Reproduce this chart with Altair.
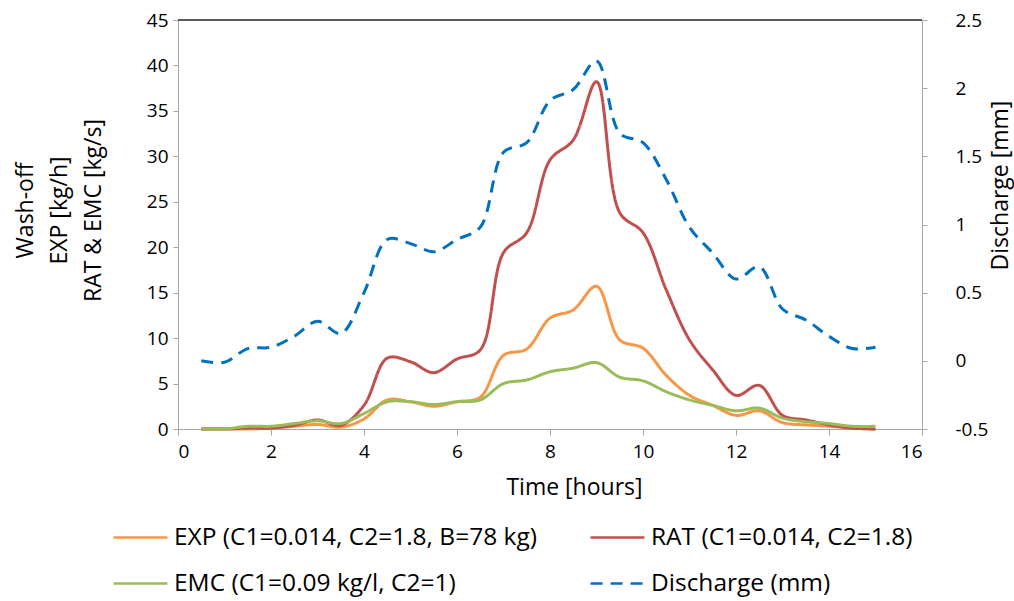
import altair as alt
import pandas as pd

# Time (hours)
time = [0.5, 1, 1.5, 2, 2.5, 3, 3.5, 4, 4.5, 5, 5.5, 6, 6.5, 7, 7.5, 8, 8.5, 9,
        9.5, 10, 10.5, 11, 11.5, 12, 12.5, 13, 13.5, 14, 14.5, 15]

exp_vals = [0, 0, 0, 0.1, 0.3, 0.5, 0.2, 1.1, 3.2, 3.0, 2.5, 3.0, 3.5, 8.1, 8.8, 12.2, 13.1, 15.7,
            9.8, 8.9, 5.9, 3.7, 2.6, 1.5, 2.0, 0.7, 0.45, 0.3, 0.1, 0]
rat_vals = [0, 0, 0.1, 0.1, 0.4, 1.0, 0.4, 2.6, 7.8, 7.4, 6.2, 7.7, 8.7, 19.4, 21.6, 29.6, 31.8, 38.2,
            23.8, 21.6, 15.3, 9.8, 6.5, 3.7, 4.8, 1.5, 1.0, 0.45, 0.1, 0]
emc_vals = [0, 0, 0.3, 0.3, 0.6, 0.9, 0.6, 1.7, 3.0, 3.0, 2.7, 3.0, 3.2, 5.0, 5.4, 6.3, 6.7, 7.3,
            5.7, 5.3, 4.1, 3.2, 2.6, 2.0, 2.3, 1.2, 0.8, 0.6, 0.3, 0.3]
discharge_vals = [0, -0.01, 0.09, 0.1, 0.18, 0.29, 0.2, 0.5, 0.89, 0.86, 0.8, 0.89, 0.98, 1.53, 1.6, 1.91,
                  1.99, 2.2, 1.67, 1.6, 1.33, 0.98, 0.79, 0.6, 0.69, 0.38, 0.3, 0.18, 0.09, 0.1]

series_names = ["EXP (C1=0.014, C2=1.8, B=78 kg)", "RAT (C1=0.014, C2=1.8)",
                "EMC (C1=0.09 kg/l, C2=1)", "Discharge (mm)"]
series_colors = ["#F79646", "#C0504D", "#9BBB59", "#0070C0"]
series_dashes = [[1, 0], [1, 0], [1, 0], [12, 8]]

left_ticks = [0, 5, 10, 15, 20, 25, 30, 35, 40, 45]
right_ticks = [-0.5, 0, 0.5, 1, 1.5, 2, 2.5]
x_ticks = [0, 2, 4, 6, 8, 10, 12, 14, 16]

rows = []
for name, vals in zip(series_names, [exp_vals, rat_vals, emc_vals, discharge_vals]):
    for t, v in zip(time, vals):
        rows.append({"time": t, "value": v, "series": name})
df = pd.DataFrame(rows)

FONT = "Open Sans"
TXT = "#000000"
AX = "#A6A6A6"
LAB = 19
TIT = 23

color_enc = alt.Color(
    "series:N",
    scale=alt.Scale(domain=series_names, range=series_colors),
    legend=alt.Legend(
        title=None, orient="none", legendX=-66, legendY=489, columns=2, direction="horizontal",
        symbolType="stroke", symbolSize=2900, symbolStrokeWidth=2.5,
        labelFontSize=24.5, labelFont=FONT, labelColor=TXT, labelOffset=5,
        columnPadding=48, rowPadding=6, labelLimit=600,
    ),
)
dash_enc = alt.StrokeDash(
    "series:N",
    scale=alt.Scale(domain=series_names, range=series_dashes),
    legend=alt.Legend(title=None),
)

x_enc = alt.X(
    "time:Q",
    scale=alt.Scale(domain=[0, 16], nice=False),
    axis=alt.Axis(
        title="Time [hours]", values=x_ticks, grid=False, domainColor=AX, tickColor=AX,
        tickSize=6, labelPadding=7, labelFontSize=LAB, labelFont=FONT, labelColor=TXT,
        titleFontSize=TIT, titleFont=FONT, titleFontWeight="normal", titleColor=TXT,
        titleX=396, titleY=58, titleBaseline="middle", titleAlign="center",
    ),
)

base = alt.Chart(df)

left = base.transform_filter(
    alt.datum.series != "Discharge (mm)"
).mark_line(interpolate="catmull-rom", strokeWidth=3).encode(
    x=x_enc,
    y=alt.Y(
        "value:Q",
        scale=alt.Scale(domain=[0, 45], nice=False),
        axis=alt.Axis(
            orient="left", values=left_ticks, grid=False, domainColor=AX, tickColor=AX,
            tickSize=5, labelPadding=5, labelFontSize=LAB, labelFont=FONT, labelColor=TXT,
            title=["Wash-off", "EXP [kg/h]", "RAT & EMC [kg/s]"], titleLineHeight=34,
            titleFontSize=TIT, titleFont=FONT, titleFontWeight="normal", titleColor=TXT,
            titleAngle=270, titleX=-153, titleY=190, titleBaseline="middle", titleAlign="center",
        ),
    ),
    color=color_enc,
    strokeDash=dash_enc,
)

right = base.transform_filter(
    alt.datum.series == "Discharge (mm)"
).mark_line(interpolate="catmull-rom", strokeWidth=3).encode(
    x=x_enc,
    y=alt.Y(
        "value:Q",
        scale=alt.Scale(domain=[-0.5, 2.5], nice=False),
        axis=alt.Axis(
            orient="right", values=right_ticks, grid=False, domainColor=AX, tickColor=AX,
            tickSize=5, labelPadding=28, labelFontSize=LAB, labelFont=FONT, labelColor=TXT,
            labelAlign="left", labelExpr="datum.value + ''",
            title="Discharge [mm]", titleFontSize=TIT, titleFont=FONT, titleFontWeight="normal",
            titleColor=TXT, titleAngle=270, titleX=78, titleY=165, titleBaseline="middle",
            titleAlign="center",
        ),
    ),
    color=color_enc,
    strokeDash=dash_enc,
)

top_border = alt.Chart(df).mark_rule(color="#595959", strokeWidth=1).encode(
    x=alt.value(0), x2=alt.value(744), y=alt.value(0)
)

chart = alt.layer(left, right, top_border).resolve_scale(y="independent").properties(
    width=744, height=409,
    autosize=alt.AutoSizeParams(type="none"),
    padding={"left": 178, "top": 20, "right": 92, "bottom": 172},
).configure_view(stroke="transparent").configure(background="white")

chart.save("out.html", embed_options={"renderer": "svg", "actions": False})
